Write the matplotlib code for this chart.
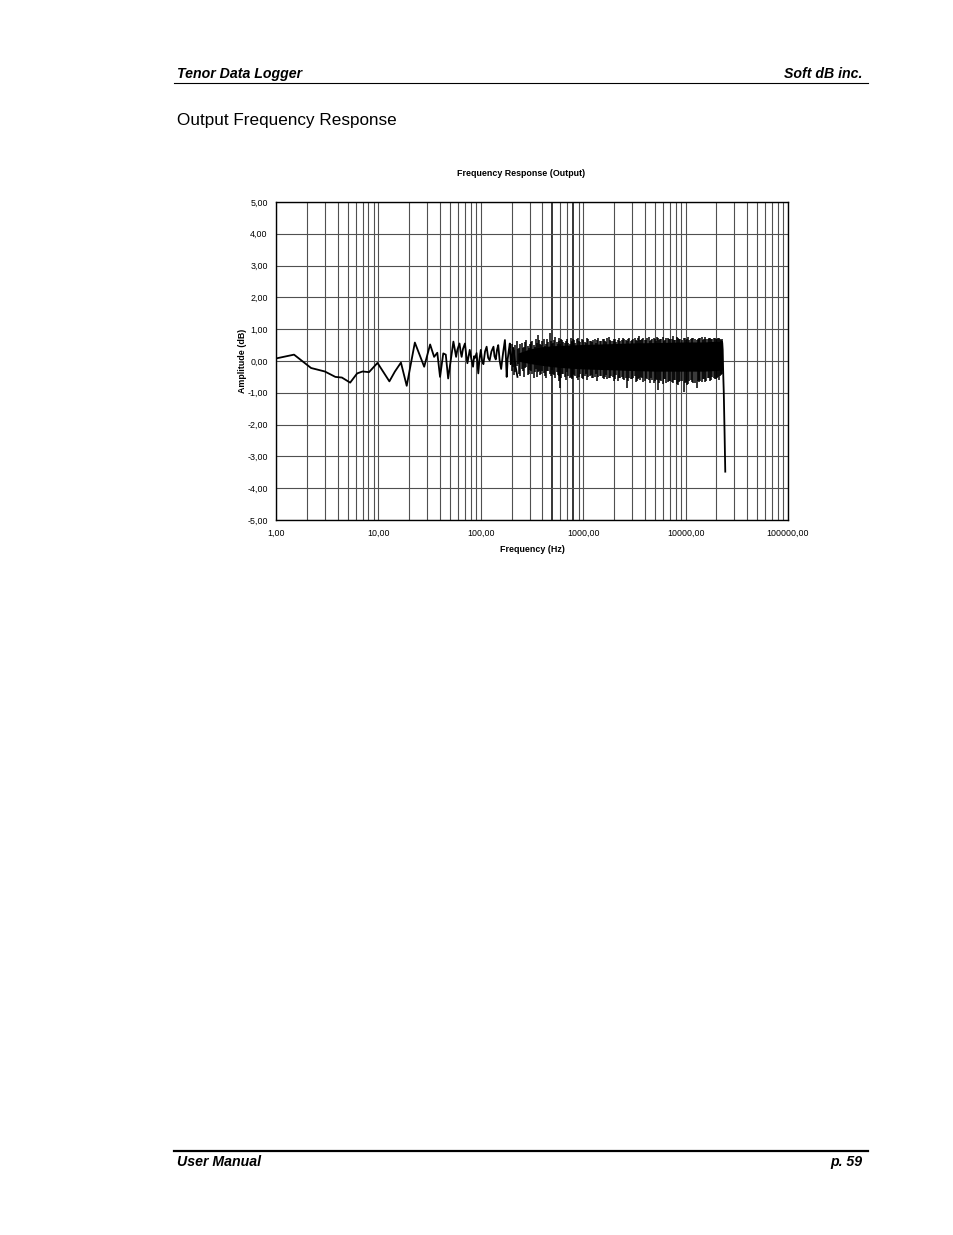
import matplotlib
matplotlib.use("Agg")
import matplotlib.pyplot as plt
from matplotlib.ticker import FixedLocator, FuncFormatter, NullFormatter

OUT_FILE = "out.png"
FONT = "Liberation Sans"

# sparse part of the trace, 1 Hz .. ~230 Hz
low_freq = [1.0, 1.5, 2.2, 3.0, 3.8, 4.4, 5.3, 6.2, 7.0, 8.1, 9.8, 12.8, 14.5,
            16.6, 18.9, 22.7, 28.0, 32.0, 35.0, 37.6, 40.0, 43.0, 45.5, 48.0,
            54, 55.5, 57.4, 59, 62, 63.5, 65, 67, 70, 72, 74, 76, 78, 81, 84,
            86, 88, 91, 94.5, 97, 100, 103, 106, 110, 114, 118, 122, 127, 133,
            136, 140, 144, 148, 153, 158, 165, 172, 176, 179, 183, 187, 192,
            196, 202, 208, 218, 228]
low_db = [0.08, 0.20, -0.22, -0.33, -0.50, -0.52, -0.68, -0.39, -0.33, -0.35,
          -0.06, -0.64, -0.33, -0.05, -0.78, 0.58, -0.18, 0.52, 0.13, 0.26,
          -0.50, 0.24, 0.20, -0.55,
          0.61, 0.40, 0.13, 0.35, 0.55, 0.30, 0.13, 0.38, 0.55, 0.20, -0.07,
          0.15, 0.35, 0.05, -0.18, 0.15, 0.10, 0.25, -0.39, 0.05, 0.35, 0.00,
          -0.10, 0.30, 0.45, 0.10, 0.02, 0.30, 0.45, 0.15, 0.05, 0.35, 0.50,
          0.00, -0.25, 0.25, 0.66, 0.10, -0.50, 0.05, 0.30, 0.55, -0.10, 0.20,
          0.40, -0.15, -0.50]

# dense part: solid core between two envelopes
core_freq = [230, 300, 400, 500, 700, 1000, 2000, 3000, 5000, 10000, 15000,
             20000, 23000]
core_top = [0.25, 0.38, 0.45, 0.48, 0.50, 0.52, 0.55, 0.57, 0.58, 0.60, 0.60,
            0.62, 0.60]
core_bottom = [0.00, -0.08, -0.14, -0.18, -0.22, -0.25, -0.28, -0.30, -0.32,
               -0.32, -0.32, -0.30, -0.28]

# dense part: single strokes sticking out of the core
spike_freq = [200, 212, 225, 238, 250, 262, 278, 295, 310, 328, 345, 364, 380,
              400, 420, 445, 473, 495, 520, 550, 575, 595, 625, 660, 700, 735,
              770, 800, 840, 893, 940, 1000, 1060, 1120, 1190, 1260, 1330,
              1410, 1500, 1590, 1680, 1770, 1880, 1990, 2110, 2240, 2380,
              2520, 2670, 2830, 3000, 3180, 3370, 3470, 3650, 3870, 4100,
              4350, 4600, 4880, 5170, 5370, 5620, 5960, 6310, 6690, 7080,
              7550, 7940, 8410, 8910, 9550, 10000, 10600, 11200, 11900,
              12800, 13400, 13900, 14700, 15500, 16400, 17300, 18300, 19300,
              20400, 21300, 22000, 22700]
spike_top = [0.55, 0.35, 0.62, 0.40, 0.58, 0.45, 0.66, 0.42, 0.60, 0.50, 0.70,
             0.82, 0.55, 0.62, 0.48, 0.68, 0.87, 0.55, 0.65, 0.60, 0.72, 0.52,
             0.66, 0.58, 0.70, 0.55, 0.63, 0.68, 0.57, 0.72, 0.60, 0.66, 0.58,
             0.70, 0.62, 0.67, 0.58, 0.71, 0.63, 0.69, 0.60, 0.74, 0.64, 0.68,
             0.61, 0.72, 0.65, 0.70, 0.62, 0.73, 0.66, 0.71, 0.64, 0.78, 0.66,
             0.72, 0.65, 0.74, 0.67, 0.71, 0.64, 0.73, 0.68, 0.75, 0.66, 0.72,
             0.69, 0.78, 0.67, 0.73, 0.68, 0.72, 0.65, 0.74, 0.68, 0.71, 0.66,
             0.73, 0.72, 0.67, 0.74, 0.69, 0.72, 0.70, 0.73, 0.68, 0.72, 0.66,
             0.70]
spike_bottom = [-0.30, -0.45, -0.15, -0.40, -0.25, -0.50, -0.20, -0.42, -0.30,
                -0.55, -0.25, -0.35, -0.45, -0.30, -0.48, -0.32, -0.40, -0.28,
                -0.45, -0.35, -0.62, -0.86, -0.40, -0.50, -0.35, -0.55, -0.52,
                -0.40, -0.48, -0.60, -0.42, -0.58, -0.40, -0.50, -0.44, -0.55,
                -0.42, -0.50, -0.46, -0.58, -0.44, -0.52, -0.47, -0.62, -0.45,
                -0.55, -0.50, -0.60, -0.86, -0.52, -0.58, -0.48, -0.62, -0.55,
                -0.50, -0.66, -0.52, -0.60, -0.55, -0.68, -0.58, -0.90, -0.60,
                -0.72, -0.58, -0.66, -0.62, -0.70, -0.60, -0.75, -0.64, -0.96,
                -0.66, -0.72, -0.60, -0.70, -0.86, -0.66, -0.62, -0.58, -0.66,
                -0.55, -0.62, -0.50, -0.58, -0.52, -0.60, -0.45, -0.40]

# more strokes, lying between the ones above
fill_freq = [206, 218, 231, 244, 256, 270, 286, 302, 319, 336,
             354, 372, 390, 410, 432, 458, 484, 507, 535, 562,
             585, 610, 642, 680, 717, 752, 785, 820, 866, 916,
             970, 1030, 1090, 1155, 1225, 1295, 1370, 1455, 1545, 1635,
             1725, 1825, 1935, 2050, 2175, 2310, 2450, 2595, 2750, 2915,
             3090, 3275, 3420, 3560, 3760, 3985, 4225, 4475, 4740, 5025,
             5270, 5495, 5790, 6135, 6500, 6885, 7315, 7745, 8175, 8660,
             9230, 9775, 10300, 10900, 11550, 12350, 13100, 13650, 14300,
             15100, 15950, 16850, 17800, 18800, 19850, 20850, 21650, 22350]
fill_top = [0.45, 0.50, 0.38, 0.55, 0.42, 0.60, 0.48, 0.52, 0.62, 0.45,
            0.58, 0.66, 0.50, 0.70, 0.55, 0.60, 0.64, 0.58, 0.74, 0.55,
            0.62, 0.68, 0.60, 0.64, 0.58, 0.72, 0.60, 0.66, 0.70, 0.62,
            0.68, 0.60, 0.72, 0.64, 0.60, 0.69, 0.65, 0.62, 0.70, 0.64,
            0.71, 0.66, 0.62, 0.70, 0.67, 0.63, 0.71, 0.66, 0.69, 0.64,
            0.70, 0.67, 0.72, 0.65, 0.70, 0.66, 0.72, 0.64, 0.70, 0.68,
            0.74, 0.66, 0.70, 0.64, 0.72, 0.68, 0.70, 0.66, 0.74, 0.69,
            0.67, 0.72, 0.70, 0.66, 0.73, 0.68, 0.70, 0.67, 0.74, 0.70,
            0.68, 0.73, 0.70, 0.71, 0.68, 0.72, 0.69, 0.62]
fill_bottom = [-0.20, -0.35, -0.10, -0.48, -0.30, -0.22, -0.45, -0.28, -0.40,
               -0.35, -0.50, -0.30, -0.42, -0.38, -0.55, -0.30, -0.46, -0.40,
               -0.52, -0.45, -0.48, -0.55, -0.42, -0.60, -0.46, -0.50, -0.58,
               -0.45, -0.55, -0.50, -0.52, -0.46, -0.60, -0.48, -0.54, -0.50,
               -0.62, -0.47, -0.55, -0.50, -0.58, -0.52, -0.50, -0.56, -0.64,
               -0.52, -0.58, -0.55, -0.62, -0.56, -0.54, -0.66, -0.58, -0.60,
               -0.55, -0.62, -0.58, -0.70, -0.60, -0.64, -0.60, -0.68, -0.62,
               -0.58, -0.70, -0.64, -0.66, -0.60, -0.72, -0.66, -0.62, -0.68,
               -0.74, -0.62, -0.66, -0.70, -0.64, -0.60, -0.66, -0.58, -0.62,
               -0.55, -0.60, -0.52, -0.56, -0.50, -0.48, -0.42]

# roll-off near the Nyquist frequency
end_freq = [22700, 23000, 23300, 23600, 24000, 24400]
end_db = [0.60, 0.35, -0.40, -1.00, -2.20, -3.48]

y_ticks = [-5, -4, -3, -2, -1, 0, 1, 2, 3, 4, 5]
x_ticks = [1, 10, 100, 1000, 10000, 100000]
x_grid = [m * 10 ** d for d in range(5) for m in range(1, 10)] + [100000]
dark_grid = [500, 800]


def comma_fmt(v, pos):
    return f"{v:.2f}".replace(".", ",")


def page_text(fig):
    kw = dict(family=FONT, fontsize=10.2, fontweight="bold", style="italic",
              va="center")
    fig.text(177 / 954, 1 - 74 / 1235, "Tenor Data Logger", **kw)
    fig.text(862 / 954, 1 - 74 / 1235, "Soft dB inc.", ha="right", **kw)
    fig.add_artist(plt.Line2D([174 / 954, 868 / 954], [1 - 83 / 1235] * 2,
                              color="black", lw=0.8))
    fig.text(177 / 954, 1 - 120 / 1235, "Output Frequency Response",
             family=FONT, fontsize=12.3, va="center")
    fig.add_artist(plt.Line2D([174 / 954, 868 / 954], [1 - 1151 / 1235] * 2,
                              color="black", lw=1.6))
    fig.text(177 / 954, 1 - 1162 / 1235, "User Manual", **kw)
    fig.text(862 / 954, 1 - 1162 / 1235, "p. 59", ha="right", **kw)


def main():
    fig = plt.figure(figsize=(9.54, 12.35), dpi=100)
    page_text(fig)

    ax = fig.add_axes([276 / 954, 1 - 520 / 1235, 512 / 954, 318 / 1235])
    ax.set_xscale("log")
    ax.set_xlim(1, 100000)
    ax.set_ylim(-5, 5)

    for f in x_grid:
        if f in dark_grid:
            ax.axvline(f, color="black", lw=1.1, zorder=1)
        else:
            ax.axvline(f, color="#505050", lw=0.8, zorder=1)
    for v in y_ticks:
        ax.axhline(v, color="#505050", lw=0.8, zorder=1)

    ax.fill_between(core_freq, core_bottom, core_top, color="black", lw=0,
                    zorder=3)
    ax.vlines(spike_freq, spike_bottom, spike_top, color="black", lw=1.1,
              zorder=3)
    ax.vlines(fill_freq, fill_bottom, fill_top, color="black", lw=1.1,
              zorder=3)
    ax.plot(low_freq, low_db, color="black", lw=1.3, zorder=4)
    ax.plot(end_freq, end_db, color="black", lw=1.3, zorder=4)

    ax.xaxis.set_major_locator(FixedLocator(x_ticks))
    ax.xaxis.set_minor_locator(FixedLocator(x_grid))
    ax.xaxis.set_major_formatter(FuncFormatter(comma_fmt))
    ax.xaxis.set_minor_formatter(NullFormatter())
    ax.yaxis.set_major_locator(FixedLocator(y_ticks))
    ax.yaxis.set_major_formatter(FuncFormatter(comma_fmt))
    ax.tick_params(which="both", length=0, labelsize=6.4, colors="black")
    ax.tick_params(axis="x", pad=6.5)
    ax.tick_params(axis="y", pad=6)
    for lab in ax.get_xticklabels() + ax.get_yticklabels():
        lab.set_family(FONT)
    for s in ax.spines.values():
        s.set_color("black")
        s.set_linewidth(1.0)

    ax.set_xlabel("Frequency (Hz)", family=FONT, fontsize=6.4,
                  fontweight="bold", labelpad=5)
    ax.set_ylabel("Amplitude (dB)", family=FONT, fontsize=6.4,
                  fontweight="bold", labelpad=0)
    fig.text(521.5 / 954, 1 - 173 / 1235, "Frequency Response (Output)",
             family=FONT, fontsize=6.4, fontweight="bold", ha="center",
             va="center")

    fig.savefig(OUT_FILE, dpi=100)


if __name__ == "__main__":
    main()
